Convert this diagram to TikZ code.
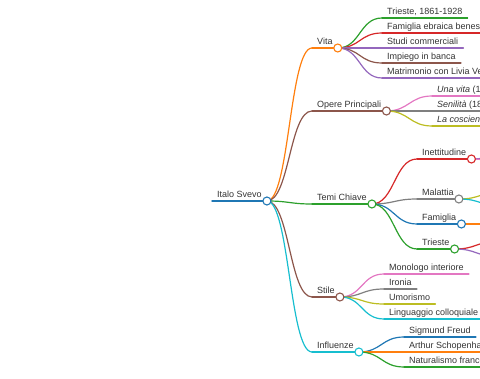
\documentclass[tikz,border=0pt]{standalone}
\usepackage{fontspec}
\setmainfont{Liberation Sans}
\definecolor{mblue}{HTML}{1F77B4}
\definecolor{morange}{HTML}{FF7F0E}
\definecolor{mgreen}{HTML}{2CA02C}
\definecolor{mred}{HTML}{D62728}
\definecolor{mpurple}{HTML}{9467BD}
\definecolor{mbrown}{HTML}{8C564B}
\definecolor{mpink}{HTML}{E377C2}
\definecolor{mgray}{HTML}{7F7F7F}
\definecolor{molive}{HTML}{BCBD22}
\definecolor{mcyan}{HTML}{17BECF}
\definecolor{txtgray}{HTML}{333333}
\newcommand\mmlab[4]{%
  \coordinate (#1s) at (#2,#3);
  \node[lbl] (#1t) at (#2,#3-3) {#4};
  \coordinate (#1e) at (#1s -| #1t.east);
}
\newcommand\mmlink[3]{% parent, child, color
  \draw[edge=#3] (#1e) .. controls +(22.5,0) and +(-22.5,0) .. (#2s);
  \draw[edge=#3] (#2s) -- (#2e);
}
\begin{document}
\begin{tikzpicture}[x=1pt,y=-1pt,
  lbl/.style={anchor=base west, inner xsep=5pt, inner ysep=0pt, font=\fontsize{9}{10}\selectfont, text=txtgray},
  dot/.style={circle, draw=#1, fill=white, line width=1.1pt, minimum size=8pt, inner sep=0pt},
  edge/.style={draw=#1, line width=1.2pt, line cap=round},
]
\useasboundingbox (0,0) rectangle (480,379);
\clip (0,0) rectangle (480,379);

% labels
\mmlab{root}{212}{201}{Italo Svevo}
\mmlab{vita}{312}{48}{Vita}
\mmlab{opere}{312}{111}{Opere Principali}
\mmlab{temi}{312}{204}{Temi Chiave}
\mmlab{stile}{312}{297}{Stile}
\mmlab{infl}{312}{352}{Influenze}

\mmlab{va}{382}{18}{Trieste, 1861-1928}
\mmlab{vb}{382}{33}{Famiglia ebraica benestante}
\mmlab{vc}{382}{48}{Studi commerciali}
\mmlab{vd}{382}{63}{Impiego in banca}
\mmlab{ve}{382}{78}{Matrimonio con Livia Veneziani}

\mmlab{oa}{432}{96}{\textit{Una vita} (1892)}
\mmlab{ob}{432}{111}{\textit{Senilità} (1898)}
\mmlab{oc}{432}{126}{\textit{La coscienza di Zeno} (1923)}

\mmlab{ta}{417}{159}{Inettitudine}
\mmlab{tb}{417}{199}{Malattia}
\mmlab{tc}{417}{224}{Famiglia}
\mmlab{td}{417}{249}{Trieste}

\mmlab{sa}{384}{274}{Monologo interiore}
\mmlab{sb}{384}{289}{Ironia}
\mmlab{sc}{384}{304}{Umorismo}
\mmlab{sd}{384}{319}{Linguaggio colloquiale}

\mmlab{ia}{404}{337}{Sigmund Freud}
\mmlab{ib}{404}{352}{Arthur Schopenhauer}
\mmlab{ic}{404}{367}{Naturalismo francese}

% grandchildren of Temi Chiave (leaving the picture)
\coordinate (taAs) at (516,151.5);
\coordinate (taBs) at (516,166.5);
\coordinate (tbAs) at (503,191.5);
\coordinate (tbBs) at (503,206.5);
\coordinate (tcAs) at (506,224);
\coordinate (tdAs) at (498,241.5);
\coordinate (tdBs) at (498,256.5);

% links
\draw[edge=mblue, line width=1.4pt] (roots) -- (roote);
\mmlink{root}{vita}{morange}
\mmlink{root}{opere}{mbrown}
\mmlink{root}{temi}{mgreen}
\mmlink{root}{stile}{mbrown}
\mmlink{root}{infl}{mcyan}

\mmlink{vita}{va}{mgreen}
\mmlink{vita}{vb}{mred}
\mmlink{vita}{vc}{mpurple}
\mmlink{vita}{vd}{mbrown}
\mmlink{vita}{ve}{mpurple}

\mmlink{opere}{oa}{mpink}
\mmlink{opere}{ob}{mgray}
\mmlink{opere}{oc}{molive}

\mmlink{temi}{ta}{mred}
\mmlink{temi}{tb}{mgray}
\mmlink{temi}{tc}{mblue}
\mmlink{temi}{td}{mgreen}

\mmlink{stile}{sa}{mpink}
\mmlink{stile}{sb}{mgray}
\mmlink{stile}{sc}{molive}
\mmlink{stile}{sd}{mcyan}

\mmlink{infl}{ia}{mblue}
\mmlink{infl}{ib}{morange}
\mmlink{infl}{ic}{mgreen}

\draw[edge=mpurple] (tae) .. controls +(22.5,0) and +(-22.5,0) .. (taAs);
\draw[edge=mpink] (tae) .. controls +(22.5,0) and +(-22.5,0) .. (taBs);
\draw[edge=molive] (tbe) .. controls +(22.5,0) and +(-22.5,0) .. (tbAs);
\draw[edge=mcyan] (tbe) .. controls +(22.5,0) and +(-22.5,0) .. (tbBs);
\draw[edge=morange] (tce) -- (tcAs);
\draw[edge=mred] (tde) .. controls +(22.5,0) and +(-22.5,0) .. (tdAs);
\draw[edge=mpurple] (tde) .. controls +(22.5,0) and +(-22.5,0) .. (tdBs);

% circles
\node[dot=mblue] (rootc) at (roote) {};
\node[dot=morange] (vitac) at (vitae) {};
\node[dot=mbrown] (operec) at (operee) {};
\node[dot=mgreen] (temic) at (temie) {};
\node[dot=mbrown] (stilec) at (stilee) {};
\node[dot=mcyan] (inflc) at (infle) {};
\node[dot=mred] (tac) at (tae) {};
\node[dot=mgray] (tbc) at (tbe) {};
\node[dot=mblue] (tcc) at (tce) {};
\node[dot=mgreen] (tdc) at (tde) {};
\end{tikzpicture}
\end{document}
